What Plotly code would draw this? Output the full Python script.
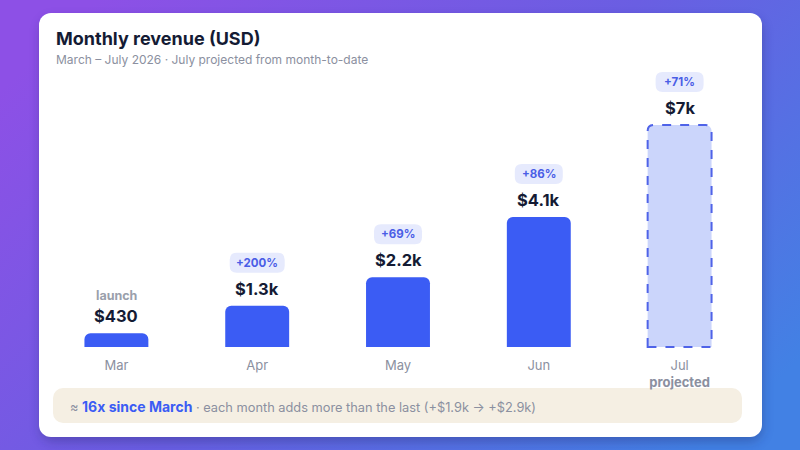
import base64
import plotly.graph_objects as go

# monthly revenue, July is a projection from month-to-date
months = ["Mar", "Apr", "May", "Jun", "Jul"]
revenue = [430, 1300, 2200, 4100, 7000]
value_labels = ["$430", "$1.3k", "$2.2k", "$4.1k", "$7k"]
change_labels = ["launch", "+200%", "+69%", "+86%", "+71%"]
tick_labels = ["Mar", "Apr", "May", "Jun", "Jul<br><b>projected</b>"]
projected = [False, False, False, False, True]

W_FIG, H_FIG = 800, 450
ML, MR, MT, MB = 46, 50, 68, 97
PW, PH = W_FIG - ML - MR, H_FIG - MT - MB

BLUE = "#3b5cf4"
LIGHT = "#cbd5fb"
DARK = "#141b34"
GREY = "#8b90a0"
FONT = "Inter"

# y scale: baseline 6px above plot bottom, top bar ends ~125px from top
base_px = 6
span = max(revenue) * PH / (347 - 125)
ymin = -base_px * span / PH
ymax = span + ymin
bar_w = 0.454


def px(x):
    return (x - ML) / PW


def py(y):
    return (H_FIG - MB - y) / PH


svg = f"""<svg xmlns='http://www.w3.org/2000/svg' width='{W_FIG}' height='{H_FIG}'>
<defs>
<linearGradient id='g' x1='0' y1='0.2' x2='1' y2='0.8'>
<stop offset='0' stop-color='#8d50e6'/><stop offset='0.5' stop-color='#6a5ee2'/><stop offset='1' stop-color='#4281e4'/>
</linearGradient>
<filter id='s' x='-10%' y='-10%' width='120%' height='130%'><feGaussianBlur stdDeviation='6'/></filter>
</defs>
<rect width='{W_FIG}' height='{H_FIG}' fill='url(#g)'/>
<rect x='41' y='19' width='721' height='422' rx='12' fill='#1b2260' opacity='0.35' filter='url(#s)'/>
<rect x='39' y='13' width='723' height='424' rx='12' fill='white'/>
<rect x='53' y='388' width='689' height='35' rx='10' fill='#f5efe3'/>
</svg>"""
bg_src = "data:image/svg+xml;base64," + base64.b64encode(svg.encode()).decode()

fig = go.Figure()
fig.add_trace(go.Bar(
    x=list(range(len(months))),
    y=revenue,
    width=bar_w,
    marker=dict(color=[LIGHT if p else BLUE for p in projected],
                line=dict(width=0), cornerradius=6),
    hoverinfo="skip",
))

shapes = []
annotations = []

# dashed outline around the projected bar
rx = 6 / (PW / len(months))
ry = 6 * span / PH
for i, (v, p) in enumerate(zip(revenue, projected)):
    if not p:
        continue
    x0, x1 = i - bar_w / 2, i + bar_w / 2
    path = (f"M {x0} 0 L {x0} {v - ry} Q {x0} {v} {x0 + rx} {v} "
            f"L {x1 - rx} {v} Q {x1} {v} {x1} {v - ry} L {x1} 0 Z")
    shapes.append(dict(type="path", xref="x", yref="y", path=path,
                       line=dict(color="#4f63e8", width=2, dash="dash")))

for i, (v, lab, chg) in enumerate(zip(revenue, value_labels, change_labels)):
    annotations.append(dict(x=i, y=v, xref="x", yref="y", text=f"<b>{lab}</b>",
                            showarrow=False, yanchor="middle", yshift=17,
                            font=dict(family=FONT, size=16.5, color=DARK)))
    if chg.startswith("+"):
        w = 20 + 7 * len(chg)
        h0, h1, r = 33, 53, 7
        a, b = -w / 2, w / 2
        pill = (f"M {a + r} {h0} L {b - r} {h0} Q {b} {h0} {b} {h0 + r} "
                f"L {b} {h1 - r} Q {b} {h1} {b - r} {h1} L {a + r} {h1} "
                f"Q {a} {h1} {a} {h1 - r} L {a} {h0 + r} Q {a} {h0} {a + r} {h0} Z")
        shapes.append(dict(type="path", xref="x", yref="y", xsizemode="pixel",
                           ysizemode="pixel", xanchor=i, yanchor=v, path=pill,
                           fillcolor="#e6eafd", line=dict(width=0)))
        annotations.append(dict(x=i, y=v, xref="x", yref="y", text=f"<b>{chg}</b>",
                                showarrow=False, yanchor="middle", yshift=43,
                                font=dict(family=FONT, size=11.5, color="#4a5de6")))
    else:
        annotations.append(dict(x=i, y=v, xref="x", yref="y", text=f"<b>{chg}</b>",
                                showarrow=False, yanchor="middle", yshift=38,
                                font=dict(family=FONT, size=12.5, color="#9aa0ab")))

annotations += [
    dict(x=px(54), y=py(39), xref="paper", yref="paper", xanchor="left",
         yanchor="middle", showarrow=False, text="<b>Monthly revenue (USD)</b>",
         font=dict(family=FONT, size=18, color=DARK)),
    dict(x=px(54), y=py(60), xref="paper", yref="paper", xanchor="left",
         yanchor="middle", showarrow=False,
         text="March – July 2026 · July projected from month-to-date",
         font=dict(family=FONT, size=12, color=GREY)),
    dict(x=px(68), y=py(406), xref="paper", yref="paper", xanchor="left",
         yanchor="middle", showarrow=False,
         text=("≈ <b><span style='color:#3b5cf4;font-size:14px'>16x since March</span></b>"
               " · each month adds more than the last (+$1.9k → +$2.9k)"),
         font=dict(family=FONT, size=12.8, color=GREY)),
]

fig.update_layout(
    width=W_FIG, height=H_FIG,
    margin=dict(l=ML, r=MR, t=MT, b=MB),
    paper_bgcolor="white", plot_bgcolor="rgba(0,0,0,0)",
    showlegend=False,
    images=[dict(source=bg_src, xref="paper", yref="paper",
                 x=-ML / PW, y=1 + MT / PH, sizex=W_FIG / PW, sizey=H_FIG / PH,
                 xanchor="left", yanchor="top", sizing="stretch", layer="below")],
    shapes=shapes,
    annotations=annotations,
    xaxis=dict(range=[-0.5, len(months) - 0.5], tickmode="array",
               tickvals=list(range(len(months))), ticktext=tick_labels,
               showgrid=False, zeroline=False, showline=False, ticks="",
               ticklabelstandoff=3,
               tickfont=dict(family=FONT, size=13, color=GREY), fixedrange=True),
    yaxis=dict(range=[ymin, ymax], visible=False, fixedrange=True),
)

# drop the default 8px page margin so the figure sits flush in the window
fig.write_html("out.html", config={"displayModeBar": False},
               post_script="document.body.style.margin='0';")
